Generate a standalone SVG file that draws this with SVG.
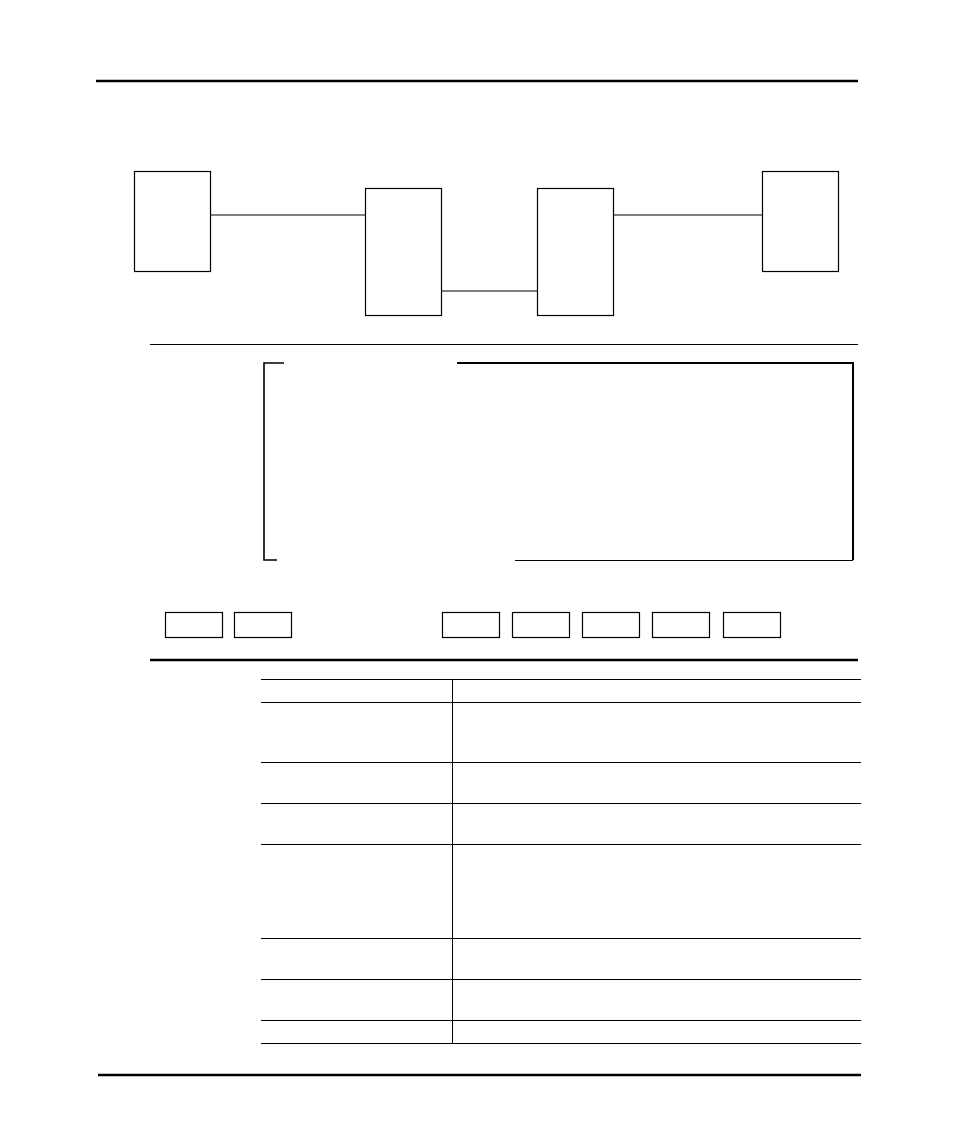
<svg xmlns="http://www.w3.org/2000/svg" width="954" height="1145" viewBox="0 0 954 1145">
<style>
.node{fill:#fff;stroke:#000;stroke-width:1.2}
.conn{stroke:#000;stroke-width:1.2;fill:none}
.rule{stroke:#000;stroke-width:2.5}
.thin{stroke:#000;stroke-width:1}
.tbl{stroke:#000;stroke-width:1}
</style>
<rect width="954" height="1145" fill="#fff"/>
<line class="rule" x1="96" y1="81" x2="858" y2="81"/>
<g id="connectors">
<line class="conn" x1="210" y1="215" x2="365" y2="215"/>
<line class="conn" x1="441" y1="291" x2="537" y2="291"/>
<line class="conn" x1="613" y1="215" x2="762" y2="215"/>
</g>
<g id="nodeA"><rect class="node" x="134.5" y="171.5" width="76" height="100"/></g>
<g id="nodeB"><rect class="node" x="365.5" y="188.5" width="76" height="127"/></g>
<g id="nodeC"><rect class="node" x="537.5" y="188.5" width="76" height="127"/></g>
<g id="nodeD"><rect class="node" x="762.5" y="171.5" width="76" height="100"/></g>
<line class="thin" x1="150" y1="344.5" x2="858" y2="344.5"/>
<g id="frame">
<path d="M284,363 H264 V560 H277" fill="none" stroke="#000" stroke-width="1.6"/>
<path d="M457,363 H853 V560" fill="none" stroke="#000" stroke-width="2"/>
<line x1="515" y1="560.5" x2="853" y2="560.5" stroke="#000" stroke-width="1"/>
</g>
<g id="buttons">
<rect class="node" x="165.5" y="612.5" width="57" height="25"/>
<rect class="node" x="234.5" y="612.5" width="57" height="25"/>
<rect class="node" x="442.5" y="612.5" width="57" height="25"/>
<rect class="node" x="512.5" y="612.5" width="57" height="25"/>
<rect class="node" x="582.5" y="612.5" width="57" height="25"/>
<rect class="node" x="652.5" y="612.5" width="57" height="25"/>
<rect class="node" x="723.5" y="612.5" width="57" height="25"/>
</g>
<line class="rule" x1="150" y1="660" x2="858" y2="660"/>
<g id="table">
<line class="tbl" x1="261" y1="679.5" x2="861" y2="679.5"/>
<line class="tbl" x1="261" y1="702.5" x2="861" y2="702.5"/>
<line class="tbl" x1="261" y1="762.5" x2="861" y2="762.5"/>
<line class="tbl" x1="261" y1="803.5" x2="861" y2="803.5"/>
<line class="tbl" x1="261" y1="844.5" x2="861" y2="844.5"/>
<line class="tbl" x1="261" y1="938.5" x2="861" y2="938.5"/>
<line class="tbl" x1="261" y1="979.5" x2="861" y2="979.5"/>
<line class="tbl" x1="261" y1="1020.5" x2="861" y2="1020.5"/>
<line class="tbl" x1="261" y1="1043.5" x2="861" y2="1043.5"/>
<line class="tbl" x1="452.5" y1="679" x2="452.5" y2="1043"/>
</g>
<line class="rule" x1="98" y1="1075" x2="861" y2="1075"/>
</svg>
